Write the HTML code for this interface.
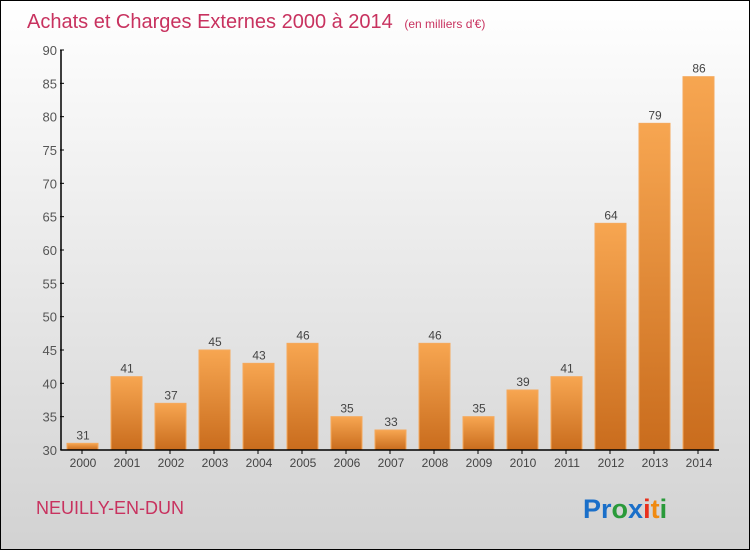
<!DOCTYPE html>
<html><head><meta charset="utf-8"><style>
body{margin:0}
#c{width:750px;height:550px;position:relative;box-sizing:border-box;border:1px solid #000;background:linear-gradient(#ffffff,#d2d2d2);font-family:"Liberation Sans",sans-serif;overflow:hidden}
</style></head><body>
<div id="c">
<svg id="s" width="748" height="548" style="position:absolute;left:0;top:0">
<defs><linearGradient id="g" x1="0" y1="0" x2="0" y2="1"><stop offset="0" stop-color="#f7a651"/><stop offset="1" stop-color="#c96c1d"/></linearGradient></defs>
<text x="26" y="27" font-size="20" fill="#c8325f">Achats et Charges Externes 2000 à 2014 <tspan font-size="12" dx="6">(en milliers d'€)</tspan></text>
<text x="35" y="513" font-size="18" fill="#c8325f">NEUILLY-EN-DUN</text>
<text x="582" y="517" font-size="27" font-weight="bold"><tspan fill="#1a6fc9">Pr</tspan><tspan fill="#2a9a3a">o</tspan><tspan fill="#1a6fc9">x</tspan><tspan fill="#e8301c">i</tspan><tspan fill="#f08a10">t</tspan><tspan fill="#2a9a3a">i</tspan></text>
<g id="plot"></g>
</svg>
</div>
<script>
const years=["2000","2001","2002","2003","2004","2005","2006","2007","2008","2009","2010","2011","2012","2013","2014"];
const values=[31,41,37,45,43,46,35,33,46,35,39,41,64,79,86];
const yTicks=[30,35,40,45,50,55,60,65,70,75,80,85,90];
const NS="http://www.w3.org/2000/svg";
const g=document.getElementById('plot');
const y0=449,yTop=49,vMin=30,vMax=90;
const y=v=>y0-(v-vMin)/(vMax-vMin)*(y0-yTop);
const x=i=>81+i*44;
function mk(t,a){const e=document.createElementNS(NS,t);for(const k in a)e.setAttribute(k,a[k]);g.appendChild(e);return e;}
yTicks.forEach(t=>{
 const l=mk('line',{x1:59,x2:63,y1:y(t),y2:y(t),stroke:'#000'});
 
 
 const tx=mk('text',{x:56,y:y(t)+5,'text-anchor':'end','font-size':13,fill:'#555'});
 tx.textContent=t;
 
 
});
values.forEach((v,i)=>{
 const r=mk('rect',{x:x(i)-15,y:y(v),width:31,height:y0-y(v),fill:'url(#g)',stroke:'#f5a95c','stroke-width':1});
 
 
 const vt=mk('text',{x:x(i)+1,y:y(v)-4,'text-anchor':'middle','font-size':12,fill:'#444'});
 vt.textContent=v;
 
 
 const tk=mk('line',{x1:x(i),x2:x(i),y1:y0,y2:y0+4,stroke:'#000'});
 
 
 const xt=mk('text',{x:x(i)+1,y:y0+17,'text-anchor':'middle','font-size':12,fill:'#444'});
 xt.textContent=years[i];
 
 
});
const ya=mk('line',{x1:60,x2:60,y1:yTop,y2:y0,stroke:'#000','stroke-width':1.5});


const xa=mk('line',{x1:60,x2:718,y1:y0,y2:y0,stroke:'#000','stroke-width':1.5});


</script>
</body></html>
